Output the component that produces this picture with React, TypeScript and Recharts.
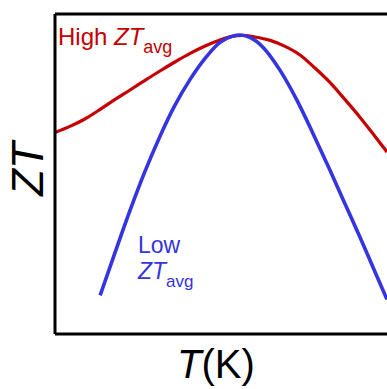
import { LineChart, Line, XAxis, YAxis, Label } from 'recharts';

// temperature (arbitrary units, 0-100 across the plot) and ZT values
const highT = [0, 4.5, 9.0, 13.6, 18.1, 22.6, 27.1, 31.6, 36.1, 40.7, 45.2, 49.7, 53.3, 56.3, 60.2, 64.8, 69.3, 73.8, 78.3, 82.8, 87.3, 91.9, 96.4, 100];
const highZT = [1.008, 1.038, 1.075, 1.123, 1.173, 1.22, 1.268, 1.315, 1.36, 1.403, 1.44, 1.47, 1.488, 1.493, 1.485, 1.468, 1.438, 1.395, 1.33, 1.258, 1.173, 1.083, 0.988, 0.91];

const lowT = [13.6, 18.1, 22.6, 27.1, 31.6, 36.1, 40.7, 45.2, 49.7, 53.3, 55.7, 58.7, 62.7, 67.8, 72.9, 77.7, 82.8, 87.3, 91.9, 96.4, 100];
const lowZT = [0.193, 0.408, 0.618, 0.813, 0.988, 1.143, 1.273, 1.378, 1.458, 1.488, 1.495, 1.483, 1.433, 1.318, 1.168, 1.003, 0.82, 0.653, 0.483, 0.31, 0.173];

const highData = highT.map((t, i) => ({ t, zt: highZT[i] }));
const lowData = lowT.map((t, i) => ({ t, zt: lowZT[i] }));

const RED = '#c40000';
const BLUE = '#3434e0';
const FONT = '"Liberation Sans", Arial, sans-serif';

export default function App() {
  return (
    <div style={{ position: 'absolute', left: 0, top: 0, background: '#fff' }}>
      <LineChart width={387} height={389} margin={{ top: 0, right: 0, left: 0, bottom: 0 }}>
        <XAxis
          dataKey="t"
          type="number"
          domain={[0, 100]}
          tick={false}
          tickLine={false}
          height={55}
          axisLine={{ stroke: '#000', strokeWidth: 3 }}
          allowDuplicatedCategory={false}
        >
          <Label
            content={() => (
              <text x={216} y={378} textAnchor="middle" fontFamily={FONT} fontSize={40} fill="#000">
                <tspan fontStyle="italic">T</tspan>
                <tspan>(K)</tspan>
              </text>
            )}
          />
        </XAxis>
        <XAxis
          xAxisId="top"
          orientation="top"
          type="number"
          domain={[0, 100]}
          tick={false}
          tickLine={false}
          height={14}
          axisLine={{ stroke: '#000', strokeWidth: 3 }}
        />
        <YAxis
          type="number"
          domain={[0, 1.6]}
          tick={false}
          tickLine={false}
          width={55}
          axisLine={{ stroke: '#000', strokeWidth: 3 }}
        >
          <Label
            content={() => (
              <text
                x={43}
                y={169}
                transform="rotate(-90 43 169)"
                textAnchor="middle"
                fontFamily={FONT}
                fontSize={44}
                fontStyle="italic"
                fill="#000"
              >
                ZT
              </text>
            )}
          />
        </YAxis>
        <Line
          data={highData}
          dataKey="zt"
          type="monotone"
          stroke={RED}
          strokeWidth={3.2}
          dot={false}
          isAnimationActive={false}
        />
        <Line
          data={lowData}
          dataKey="zt"
          type="monotone"
          stroke={BLUE}
          strokeWidth={3.6}
          dot={false}
          isAnimationActive={false}
        />
        <text x={58} y={45} fontFamily={FONT} fontSize={24} fill={RED}>
          <tspan>High </tspan>
          <tspan fontStyle="italic">ZT</tspan>
          <tspan fontSize={18} dy={8}>avg</tspan>
        </text>
        <text x={138} y={253} fontFamily={FONT} fontSize={23} fill={BLUE}>
          Low
        </text>
        <text x={138} y={279} fontFamily={FONT} fontSize={23} fill={BLUE}>
          <tspan fontStyle="italic">ZT</tspan>
          <tspan fontSize={17} dy={8}>avg</tspan>
        </text>
      </LineChart>
    </div>
  );
}
